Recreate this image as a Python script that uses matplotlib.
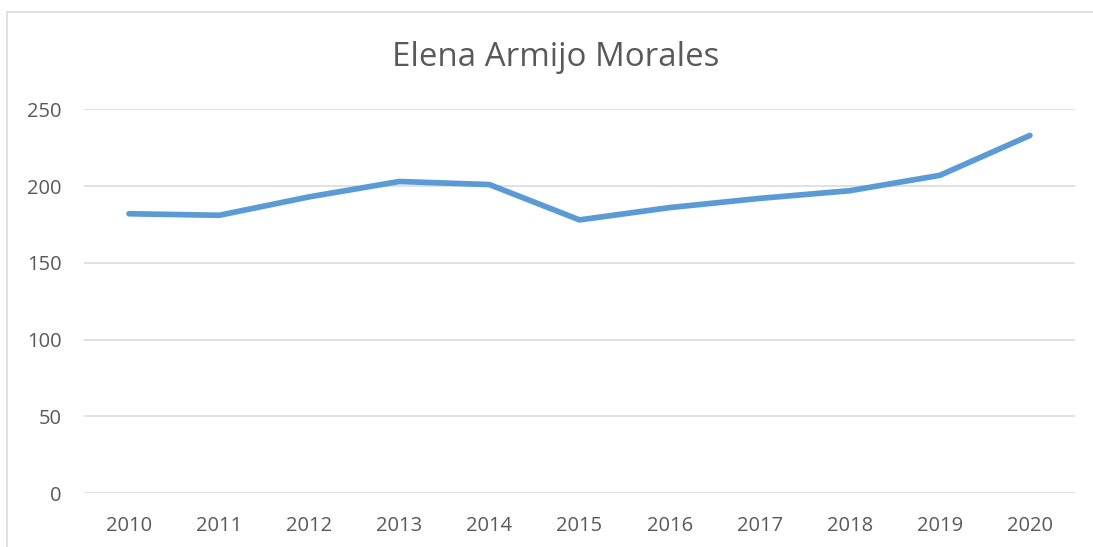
import matplotlib.pyplot as plt
from matplotlib.patches import Rectangle

# 연도별 값
years = ['2010', '2011', '2012', '2013', '2014', '2015',
         '2016', '2017', '2018', '2019', '2020']
values = [182, 181, 193, 203, 201, 178, 186, 192, 197, 207, 233]
y_ticks = [0, 50, 100, 150, 200, 250]

plt.rcParams['font.family'] = ['Open Sans', 'DejaVu Sans']

fig = plt.figure(figsize=(10.93, 5.47), dpi=100)
ax = fig.add_axes([84 / 1093, 1 - 493.3 / 547, (1075 - 84) / 1093, (493.3 - 109.3) / 547])

# 차트 테두리 (오른쪽/아래는 잘려 있음)
fig.patches.append(Rectangle((7 / 1093, -0.1), 1.2, 1 - 11.5 / 547 + 0.1,
                             transform=fig.transFigure, fill=False,
                             edgecolor='#D9D9D9', linewidth=1.1))

x = range(len(years))
ax.plot(x, values, color='#5B9BD5', linewidth=4.1,
        solid_capstyle='round', solid_joinstyle='round', zorder=3)

ax.set_xlim(-0.5, len(years) - 0.5)
ax.set_ylim(0, 250)
ax.set_yticks(y_ticks)
ax.set_xticks(list(x))
ax.set_xticklabels(years)
ax.yaxis.grid(True, color='#D9D9D9', linewidth=1.1)
ax.set_axisbelow(True)
for s in ax.spines.values():
    s.set_visible(False)
ax.tick_params(axis='both', length=0, labelsize=14.5, colors='#595959')
ax.tick_params(axis='y', pad=16)
ax.tick_params(axis='x', pad=16)

fig.text(556 / 1093, 1 - 58 / 547, 'Elena Armijo Morales', ha='center', va='center',
         fontsize=23.8, color='#595959')

fig.savefig('out.png', dpi=100)
